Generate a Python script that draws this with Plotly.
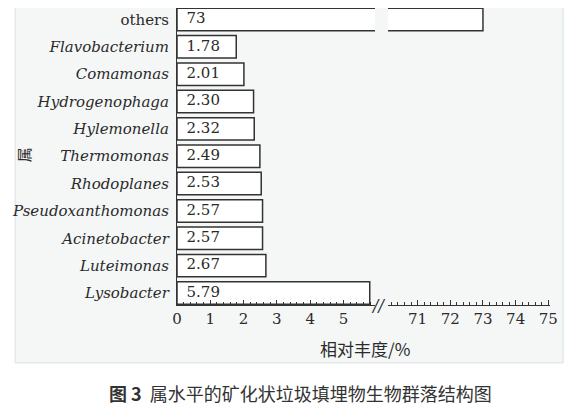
import plotly.graph_objects as go

# genus names, top to bottom as in the figure
GENERA = [
    "others",
    "<i>Flavobacterium</i>",
    "<i>Comamonas</i>",
    "<i>Hydrogenophaga</i>",
    "<i>Hylemonella</i>",
    "<i>Thermomonas</i>",
    "<i>Rhodoplanes</i>",
    "<i>Pseudoxanthomonas</i>",
    "<i>Acinetobacter</i>",
    "<i>Luteimonas</i>",
    "<i>Lysobacter</i>",
]
ABUNDANCE = [73, 1.78, 2.01, 2.30, 2.32, 2.49, 2.53, 2.57, 2.57, 2.67, 5.79]
VALUE_LABELS = ["73", "1.78", "2.01", "2.30", "2.32", "2.49", "2.53", "2.57", "2.57", "2.67", "5.79"]

LEFT_TICKS = [0, 1, 2, 3, 4, 5]
RIGHT_TICKS = [71, 72, 73, 74, 75]

SERIF = "DejaVu Serif"
CJK = "Noto Sans CJK SC"
INK = "#2a2a2a"

bar_style = dict(
    orientation="h",
    marker=dict(color="white", line=dict(color="#333333", width=1.5)),
    width=0.82,
    hoverinfo="skip",
    showlegend=False,
)

fig = go.Figure()
# left segment of the broken axis
fig.add_trace(go.Bar(x=ABUNDANCE, y=GENERA, xaxis="x", yaxis="y", **bar_style))
# right segment (only "others" reaches it)
fig.add_trace(go.Bar(x=ABUNDANCE, y=GENERA, xaxis="x2", yaxis="y", **bar_style))
# value labels at the start of each bar
fig.add_trace(
    go.Scatter(
        x=[0] * len(ABUNDANCE),
        y=GENERA,
        text=["  " + v for v in VALUE_LABELS],
        mode="text",
        textposition="middle right",
        textfont=dict(family=SERIF, size=15, color=INK),
        xaxis="x",
        yaxis="y",
        cliponaxis=False,
        hoverinfo="skip",
        showlegend=False,
    )
)

axis_common = dict(
    showline=True,
    linecolor="#333333",
    linewidth=1.2,
    showgrid=False,
    zeroline=False,
    ticks="inside",
    ticklen=5,
    tickwidth=1,
    tickcolor="#333333",
    tickfont=dict(family=SERIF, size=15, color=INK),
    anchor="y",
    fixedrange=True,
)

fig.update_layout(
    width=575,
    height=400,
    margin=dict(l=169, r=33, t=0, b=103),
    paper_bgcolor="white",
    plot_bgcolor="rgba(0,0,0,0)",
    xaxis=dict(
        domain=[0, 0.531],
        range=[0, 5.95],
        tickvals=LEFT_TICKS,
        minor=dict(dtick=0.2, ticks="inside", ticklen=3, tickcolor="#333333"),
        **axis_common,
    ),
    xaxis2=dict(
        domain=[0.566, 1],
        range=[70.1, 75.05],
        tickvals=RIGHT_TICKS,
        minor=dict(dtick=0.2, ticks="inside", ticklen=3, tickcolor="#333333"),
        **axis_common,
    ),
    yaxis=dict(
        type="category",
        categoryorder="array",
        categoryarray=GENERA,
        range=[10.44, -0.42],
        showline=True,
        linecolor="#333333",
        linewidth=1.2,
        showgrid=False,
        ticks="",
        ticklabelstandoff=4,
        tickfont=dict(family=SERIF, size=15, color=INK),
        fixedrange=True,
    ),
    shapes=[
        # light grey panel behind the chart
        dict(
            type="rect",
            xref="paper",
            yref="paper",
            x0=-0.434,
            x1=1.035,
            y0=-0.195,
            y1=1.01,
            fillcolor="#f5f7f7",
            line=dict(color="#d8e1e1", width=1),
            layer="below",
        ),
    ],
    annotations=[
        # axis break marks
        dict(
            text="<i>//</i>",
            xref="paper",
            yref="paper",
            x=0.54,
            y=0,
            xanchor="center",
            yanchor="middle",
            showarrow=False,
            font=dict(family=SERIF, size=16, color=INK),
        ),
        dict(
            text="属",
            xref="paper",
            yref="paper",
            x=-0.412,
            y=0.505,
            textangle=-90,
            xanchor="center",
            yanchor="middle",
            showarrow=False,
            font=dict(family=CJK, size=15, color=INK),
        ),
        dict(
            text="相对丰度/%",
            xref="paper",
            yref="paper",
            x=0.504,
            y=-0.148,
            xanchor="center",
            yanchor="middle",
            showarrow=False,
            font=dict(family=CJK, size=17, color=INK),
        ),
        dict(
            text="<b>图 3</b>  属水平的矿化状垃圾填埋物生物群落结构图",
            xref="paper",
            yref="paper",
            x=0.33,
            y=-0.296,
            xanchor="center",
            yanchor="middle",
            showarrow=False,
            font=dict(family=CJK, size=18, color="#333333"),
        ),
    ],
)

fig.write_html("out.html")
